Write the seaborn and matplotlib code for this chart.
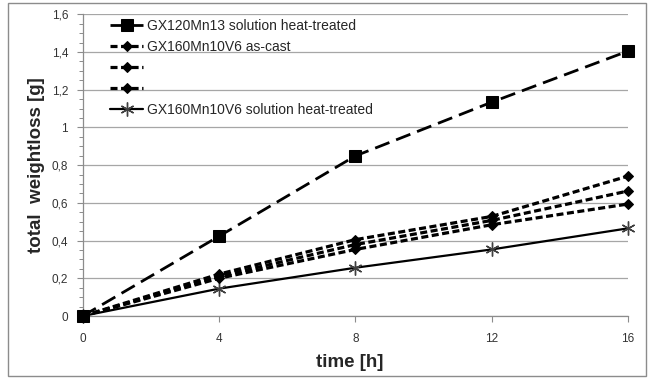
import numpy as np
import pandas as pd
import matplotlib
matplotlib.use('Agg')
import matplotlib.pyplot as plt
from matplotlib.patches import Rectangle
from matplotlib.ticker import MultipleLocator, FuncFormatter
import seaborn as sns

# Data
time_h = [0, 4, 8, 12, 16]
gx120_sol = [0, 0.423, 0.849, 1.134, 1.405]
gx160_cast_a = [0, 0.222, 0.405, 0.528, 0.742]
gx160_cast_b = [0, 0.210, 0.379, 0.507, 0.663]
gx160_cast_c = [0, 0.200, 0.353, 0.484, 0.594]
gx160_sol = [0, 0.145, 0.256, 0.353, 0.465]

labels = ['GX120Mn13 solution heat-treated', 'GX160Mn10V6 as-cast', '', '',
          'GX160Mn10V6 solution heat-treated']

sns.set_style('white')
plt.rcParams['font.family'] = ['Liberation Sans', 'DejaVu Sans']

fig = plt.figure(figsize=(6.51, 3.78), dpi=100)
ax = fig.add_axes([0.127, 0.164, 0.8376, 0.798])

# outer frame like the spreadsheet chart area
fig.patches.append(Rectangle((0.0123, 0.006), 0.98, 0.987, transform=fig.transFigure,
                             fill=False, edgecolor='#8c8c8c', linewidth=1.0))

# gridlines
ax.set_axisbelow(True)
ax.yaxis.grid(True, which='major', color='#a6a6a6', linewidth=0.9)
ax.xaxis.grid(False)

sns.lineplot(x=time_h, y=gx160_sol, ax=ax, color='black', linewidth=1.6,
             marker=(6, 2, 0), markersize=10, markeredgecolor='#404040', markeredgewidth=1.0,
             label=labels[4], zorder=3, clip_on=False)
sns.lineplot(x=time_h, y=gx160_cast_c, ax=ax, color='black', linewidth=2.3,
             linestyle=(0, (2.2, 1.1)), marker='D', markersize=5.5, markeredgecolor='black',
             label='_c', zorder=4, clip_on=False)
sns.lineplot(x=time_h, y=gx160_cast_b, ax=ax, color='black', linewidth=2.3,
             linestyle=(0, (2.2, 1.1)), marker='D', markersize=5.5, markeredgecolor='black',
             label='_b', zorder=4, clip_on=False)
sns.lineplot(x=time_h, y=gx160_cast_a, ax=ax, color='black', linewidth=2.3,
             linestyle=(0, (2.2, 1.1)), marker='D', markersize=5.5, markeredgecolor='black',
             label=labels[1], zorder=4, clip_on=False)
sns.lineplot(x=time_h, y=gx120_sol, ax=ax, color='black', linewidth=2.0,
             linestyle=(0, (5.5, 2.6)), marker='s', markersize=8, markeredgecolor='black',
             label=labels[0], zorder=5, clip_on=False)

ax.set_xlim(0, 16)
ax.set_ylim(0, 1.6)
ax.xaxis.set_major_locator(MultipleLocator(4))
ax.yaxis.set_major_locator(MultipleLocator(0.2))
ax.yaxis.set_minor_locator(MultipleLocator(0.05))
ax.yaxis.set_major_formatter(FuncFormatter(lambda v, p: f'{v:g}'.replace('.', ',')))

ax.tick_params(axis='y', which='major', direction='out', length=4.5, width=0.8,
               color='#8c8c8c', labelsize=8.5, labelcolor='#333333', pad=6, left=True)
ax.tick_params(axis='y', which='minor', direction='out', length=3, width=0.7,
               color='#8c8c8c', left=True)
ax.tick_params(axis='x', which='major', direction='out', length=4.5, width=0.8,
               color='#8c8c8c', labelsize=8.5, labelcolor='#333333', pad=8, bottom=True)

for side in ['top', 'right']:
    ax.spines[side].set_visible(False)
for side in ['left', 'bottom']:
    ax.spines[side].set_color('#8c8c8c')
    ax.spines[side].set_linewidth(0.9)

ax.set_xlabel('time [h]', fontsize=13.5, fontweight='bold')
ax.set_ylabel('total  weightloss [g]', fontsize=13.5, fontweight='bold')
ax.xaxis.set_label_coords(0.49, -0.127)
ax.yaxis.set_label_coords(-0.069, 0.5)

lines = ax.get_lines()
handles = [lines[4], lines[3], lines[2], lines[1], lines[0]]
ax.legend(handles, labels, loc='upper left', bbox_to_anchor=(0.05, 0.985), frameon=False,
          fontsize=10, handlelength=2.4, handletextpad=0.3, labelspacing=0.5,
          borderaxespad=0, borderpad=0)

fig.savefig('out.png', dpi=100)
